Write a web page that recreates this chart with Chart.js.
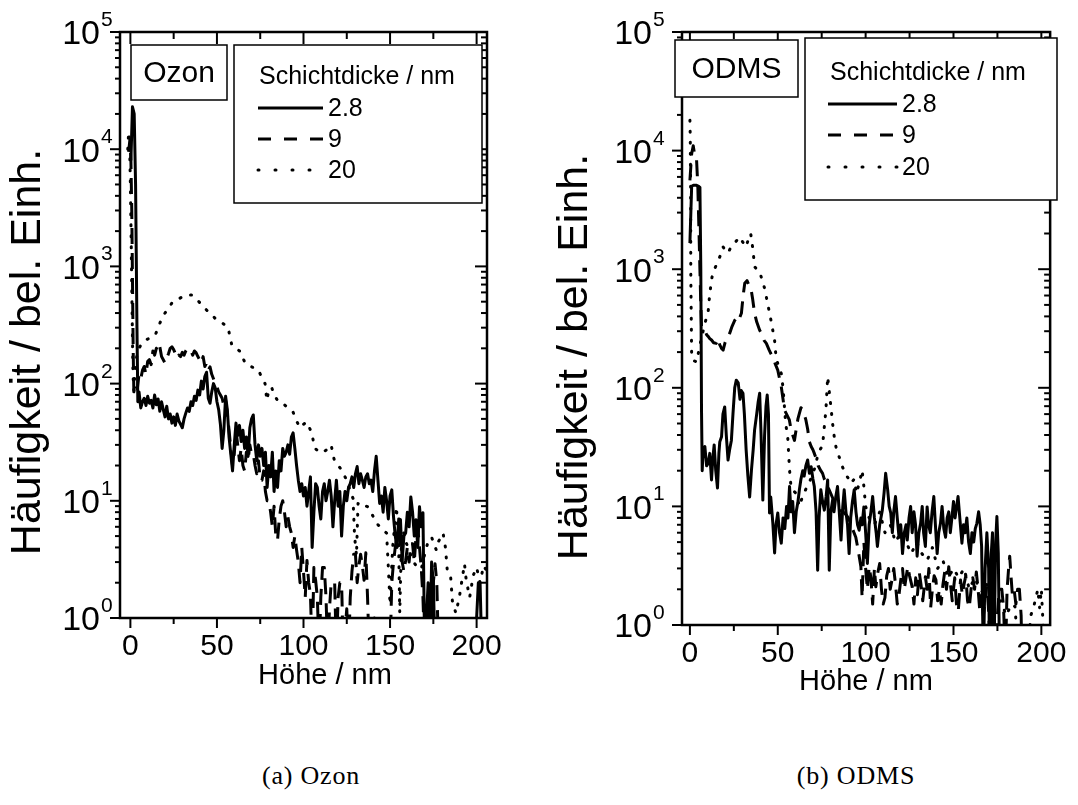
<!DOCTYPE html>
<html>
<head>
<meta charset="utf-8">
<script src="https://cdn.jsdelivr.net/npm/chart.js@4.4.0/dist/chart.umd.min.js"></script>
<style>
  body { margin: 0; background: #fff; width: 1078px; height: 805px; position: relative; overflow: hidden; }
  canvas { position: absolute; top: 0; }
  #ozon { left: 0; }
  #odms { left: 540px; }
  .cap { position: absolute; top: 761px; width: 300px; text-align: center; font: 26px "Liberation Serif", "DejaVu Serif", serif; letter-spacing: 0.8px; color: #000; }
</style>
</head>
<body>
<canvas id="ozon" width="540" height="720"></canvas>
<canvas id="odms" width="538" height="720"></canvas>
<div class="cap" style="left:161px">(a) Ozon</div>
<div class="cap" style="left:706px">(b) ODMS</div>
<script>
// thickness labels (legend)
const thickness = ['2.8', '9', '20']
const xTickValues = [0, 50, 100, 150, 200]
const yDecades = [0, 1, 2, 3, 4, 5]

// Ozon panel, [height nm, frequency], 0.5 = empty bin (below axis)
const ozon28 = [
  [0.3, 8000], [1.2, 23000], [2.2, 20000], [3, 5000], [3.8, 300], [4.3, 70],
  [5, 85], [6, 62], [7, 70], [8, 75], [9, 65], [10, 78], [11, 68], [12, 72], [13, 62], [14, 80],
  [15, 66], [16, 74], [17, 58], [18, 70], [19, 60], [20, 52], [21, 64], [22, 50], [23, 55], [24, 46],
  [25, 52], [26, 44], [27, 55], [28, 48], [29, 45], [30, 42], [31, 50], [32, 56], [33, 62], [34, 58],
  [35, 70], [36, 65], [37, 78], [38, 72], [39, 88], [40, 80], [41, 105], [42, 90], [43, 115], [44, 125],
  [45, 75], [46, 68], [47, 85], [48, 100], [49, 92], [50, 70], [51, 60], [52, 45], [53, 28], [54, 40],
  [55, 78], [56, 60], [57, 35], [58, 25], [59, 18], [60, 30], [61, 46], [62, 36], [63, 44], [64, 32],
  [65, 40], [66, 28], [67, 35], [68, 24], [69, 42], [70, 50], [71, 54], [72, 30], [73, 22], [74, 30],
  [75, 24], [76, 28], [77, 20], [78, 26], [79, 13], [80, 20], [81, 16], [82, 26], [83, 12], [84, 18],
  [85, 13], [86, 22], [87, 18], [88, 28], [89, 24], [90, 26], [91, 30], [92, 25], [93, 35], [94, 38],
  [95, 28], [96, 20], [97, 15], [98, 12], [99, 14], [100, 11], [101, 13], [102, 9], [103, 12], [104, 16],
  [105, 4], [106, 8], [107, 14], [108, 13], [109, 9], [110, 7], [111, 12], [112, 14], [113, 10], [114, 12],
  [115, 15], [116, 11], [117, 6], [118, 10], [119, 15], [120, 9], [121, 12], [122, 5], [123, 9], [124, 12],
  [125, 10], [126, 13], [127, 14], [128, 16], [129, 13], [130, 17], [131, 19.6], [132, 14], [133, 17], [134, 15],
  [135, 13], [136, 16], [137, 17], [138, 14], [139, 15], [140, 12], [141, 18], [142, 24], [143, 15], [144, 9.5],
  [145, 11], [146, 8], [147, 13], [148, 10], [149, 7], [150, 11], [151, 12.4], [152, 7.3], [153, 5], [154, 4],
  [155, 7], [156, 6.9], [157, 3.1], [158, 5], [159, 5.3], [160, 8], [161, 6], [162, 10.8], [163, 8], [164, 5],
  [165, 6.9], [166, 4], [167, 8.9], [168, 6], [169, 7.9], [170, 0.5], [171, 1], [172, 2], [173, 0.5], [174, 3],
  [175, 2], [176, 0.5], [199, 0.5], [200, 1], [201, 2], [202, 2], [203, 0.5], [206, 0.5]
]
const ozon9 = [
  [-1, 9500], [-0.3, 12000], [0.3, 8000], [0.8, 3000], [1.2, 800], [1.6, 200], [2, 85], [3, 100], [4, 90],
  [5, 120], [6, 110], [7, 130], [8, 140], [9, 120], [10, 155], [11, 160], [12, 145], [13, 190], [14, 175],
  [15, 200], [16, 185], [17, 206], [18, 170], [19, 160], [20, 150], [21, 165], [22, 180], [23, 200], [24, 206],
  [25, 195], [26, 180], [27, 165], [28, 175], [29, 170], [30, 185], [31, 175], [32, 190], [33, 200], [34, 195],
  [35, 190], [36, 175], [37, 190], [38, 183], [39, 170], [40, 160], [41, 150], [42, 170], [43, 140], [44, 150],
  [45, 130], [46, 139], [47, 120], [48, 110], [49, 100], [50, 94], [51, 85], [52, 80], [53, 75], [54, 65],
  [55, 72], [56, 55], [57, 40], [58, 28], [59, 20], [60, 25], [61, 40], [62, 30], [63, 22], [64, 28],
  [65, 20], [66, 18], [67, 26], [68, 22], [69, 30], [70, 25], [71, 25], [72, 20], [73, 17], [74, 22],
  [75, 15], [76, 15], [77, 18], [78, 12], [79, 10], [80, 10], [81, 8], [82, 6], [83, 9], [84, 5],
  [85, 4.6], [86, 7], [87, 9], [88, 10], [89, 8], [90, 6], [91, 7.3], [92, 6], [93, 5.3], [94, 4],
  [95, 5], [96, 3.8], [97, 3], [98, 2], [99, 4], [100, 2.5], [101, 1.5], [102, 3.1], [103, 2], [104, 1.6],
  [105, 0.5], [106, 2.7], [107, 2.1], [108, 1.5], [109, 0.5], [110, 1.5], [111, 2.7], [112, 2.7], [113, 1.5], [114, 0.5],
  [115, 1.2], [116, 2], [117, 2], [118, 2], [119, 0.5], [120, 1.5], [121, 2], [122, 2], [123, 0.5], [125, 1.2],
  [126, 0.5], [127, 1.5], [128, 2.5], [129, 3.5], [130, 3.5], [131, 2], [132, 2.8], [133, 3.5], [134, 2.8], [135, 2.1],
  [136, 3.6], [137, 1.5], [138, 0.5], [140, 0.5], [141, 1], [142, 0.5], [150, 0.5], [151, 2], [152, 3], [153, 4],
  [154, 5], [155, 5.6], [156, 4], [157, 3], [158, 2.5], [159, 3.1], [160, 4], [161, 3], [162, 4.3], [163, 4.3],
  [164, 3], [165, 5], [166, 6], [167, 4], [168, 2.7], [169, 1.5], [170, 0.5], [174, 0.5], [175, 2], [176, 2.9],
  [177, 2], [178, 0.5], [206, 0.5]
]
const ozon20 = [
  [-1.5, 10000], [-1, 14000], [-0.5, 12000], [0, 5000], [0.5, 1500], [1, 400], [1.5, 120], [2, 88], [3, 150],
  [4, 180], [5, 200], [6, 213], [8, 230], [10, 240], [11.5, 245], [13, 255], [14.4, 260], [16, 300], [18.3, 365],
  [20, 400], [22, 440], [24, 488], [26, 510], [28, 530], [30, 550], [32, 560], [34, 570], [35.5, 570], [37, 550],
  [39, 510], [41.3, 470], [43, 440], [45, 410], [47, 385], [49, 360], [50.7, 350], [53, 330], [56.5, 300], [57.5, 250],
  [58.6, 213], [61, 200], [63.4, 188], [65, 165], [66.3, 150], [68, 145], [70, 139], [72, 135], [74, 130], [76, 112],
  [77.8, 100], [78.8, 72], [80, 88], [81.6, 93], [83, 80], [85.5, 70], [87, 68], [89, 66], [91, 62], [94, 57],
  [96, 48], [98, 42], [100, 45], [102, 47], [104.7, 38], [106.6, 28], [108, 27], [110.5, 25.6], [113, 27], [116, 30],
  [117, 25], [118, 21.6], [120, 20], [122, 18.4], [124, 16], [125.8, 14], [127, 12], [128.6, 10.5], [129.5, 5], [130.6, 3.4],
  [131.5, 9.5], [133, 9], [135, 9.2], [137, 8.9], [139, 8], [142, 6.5], [145, 5.8], [148, 5.3], [149, 2.7], [150, 1.3],
  [151.5, 4], [153.7, 8.9], [155, 4], [155.6, 1.1], [156.5, 4], [157.5, 5.6], [159, 4.5], [161, 3.8], [163, 3.1], [165, 2.8],
  [168, 2.6], [170, 3.5], [172, 4.5], [174, 4.9], [176.7, 3.8], [178, 4.5], [180.6, 5.3], [182, 4], [183, 2.6], [185, 2.25],
  [186, 1.4], [188, 1.1], [190, 1.5], [193, 2.9], [194, 2.1], [196, 1.5], [198, 2.3], [200, 2.7], [202, 2], [204, 2.8],
  [206, 2.5]
]

// ODMS panel
const odms28 = [
  [0, 1660], [1, 5000], [2, 5100], [3, 5100], [3.8, 5100], [5, 5000], [5.7, 4900], [6.2, 1000], [6.6, 65], [7, 20],
  [7.5, 30], [8.5, 32], [9.5, 22], [10.4, 23], [11.3, 28], [12.3, 16.7], [13, 25], [13.8, 33], [14.7, 20], [15.7, 14.3],
  [16.5, 28], [17, 35], [18, 38.6], [18.8, 60], [19.8, 69], [20.7, 40], [21.7, 24.6], [22.6, 30], [23.6, 36], [24.5, 60],
  [25.5, 100], [26.4, 116], [27.5, 110], [28.5, 80], [29.2, 95], [30.2, 90], [31, 60], [32, 30], [33, 18], [34, 12],
  [35, 20], [36, 30], [36.8, 44], [38, 60], [38.8, 75], [39.7, 90], [40.5, 40], [41.5, 11.3], [42.5, 40], [43.3, 70],
  [44, 87], [44.7, 60], [45.3, 8.8], [46, 12], [47.2, 7.2], [48.2, 4.05], [49, 7], [50, 8.8], [51, 6], [52, 4.9],
  [53, 8], [54, 6.5], [55, 10], [55.8, 8], [56.7, 14.7], [57.5, 9], [58.5, 11], [59.5, 6], [60.5, 9], [61.5, 11],
  [62.3, 13.8], [63.2, 17], [64.2, 20], [65, 18], [66, 22], [67, 24.6], [68, 19], [69, 21.6], [70, 17], [70.8, 14.7],
  [71.8, 9], [72.7, 2.9], [73.5, 8], [74.5, 13.8], [75.5, 11], [76.5, 9.3], [77.5, 12], [78.4, 16.7], [79.3, 2.9], [80.2, 9],
  [81.2, 11.3], [82, 9], [83, 12], [84, 14.7], [85, 9], [86, 5.2], [87, 10], [87.8, 13.8], [88.8, 9], [89.7, 7],
  [90.6, 4], [91.5, 8], [92.5, 11], [93.5, 13.8], [94.5, 9], [95.4, 7], [96.3, 6.3], [97.3, 8], [98, 7], [99, 9.9],
  [100, 6], [101, 3.3], [102, 7], [103, 9], [104, 12.1], [105, 8], [106, 6], [106.7, 4.6], [108, 7], [109.5, 9.3],
  [110.5, 13], [111.4, 19], [112.5, 14], [113.4, 10], [114.3, 8.8], [115.2, 6], [116, 9], [117, 12.1], [118, 8], [119, 5.5],
  [120, 7], [121, 4], [122, 6], [123, 7], [123.7, 5.2], [124.7, 8], [125.6, 10], [126.5, 6], [127.5, 9], [128.4, 7],
  [129.3, 3.8], [130.3, 6], [131.3, 7.2], [132.2, 10], [133, 6], [134, 4.6], [135, 9.9], [135.8, 7], [136.8, 6], [137.8, 9],
  [138.8, 12.1], [139.7, 7], [140.7, 4], [141.6, 6], [142.6, 7.2], [143.5, 10], [144.5, 6.5], [145.5, 5.5], [146.4, 8], [147.3, 9],
  [148.2, 6], [149.1, 8], [150, 11], [150.9, 8], [151.8, 10], [152.6, 12.1], [153.6, 8], [154.8, 4.9], [155.7, 7], [156.6, 6],
  [157.6, 8], [158.6, 5], [159.6, 4], [160.5, 6], [161.5, 5], [162.4, 6.5], [163.3, 7.2], [164.3, 9], [165.2, 7], [166, 4.6],
  [167, 0.5], [168, 3], [169, 6], [170, 3], [170.5, 0.5], [171.5, 4], [172.2, 6], [173, 0.5], [174, 5], [174.7, 8.2],
  [175.5, 4], [176.2, 0.5], [206, 0.5]
]
const odms9 = [
  [0, 5600], [1, 9400], [1.9, 11000], [2.8, 9000], [3.8, 8300], [4.5, 5000], [5.2, 2000], [5.7, 990], [6.2, 500], [6.6, 327],
  [7.5, 310], [8.5, 306], [9.5, 280], [10.5, 270], [11.3, 260], [12.3, 253], [13.5, 240], [15, 237], [16, 260], [17, 230],
  [18, 215], [18.9, 208], [20, 240], [21, 260], [22.7, 290], [24, 330], [25.5, 370], [27, 400], [28, 380], [29.3, 425],
  [30.3, 600], [31.2, 760], [32.5, 800], [33.5, 740], [34.6, 710], [35.7, 560], [36.8, 425], [38, 360], [39.7, 306], [41, 280],
  [42.3, 250], [43.5, 237], [45, 210], [46, 195], [47.2, 183], [48.5, 160], [50, 141], [51, 120], [52, 102], [53, 80],
  [53.8, 65], [55, 60], [56.6, 53.6], [57.5, 45], [58.5, 40], [59.5, 36], [60.5, 45], [61.5, 55], [62.3, 61], [63.2, 68],
  [64.2, 65], [65, 60], [66, 53.6], [67, 45], [68, 35], [69, 32], [70, 30], [70.8, 28], [72, 25], [73, 22],
  [74.5, 20], [75.5, 19], [76.5, 17], [77.5, 16], [78.4, 14.7], [80, 13], [81, 12], [82, 11], [83.5, 10], [85, 9.5],
  [86.5, 9], [88, 8.8], [89.7, 8.2], [91, 7.5], [92.5, 6.5], [94.4, 5.5], [95.5, 4.5], [97.3, 3.1], [98, 1.7], [99, 5],
  [100, 3], [101, 2], [102, 3.1], [103, 2.5], [104, 1.5], [105, 3], [105.8, 2.1], [107, 2.8], [108, 3.3], [109, 2],
  [110, 1.5], [111, 1.7], [112, 2.6], [113, 3], [114, 2], [115, 2.4], [116, 3], [117, 2.2], [118, 1.5], [119, 1.8],
  [120, 2.4], [121, 3], [122, 2], [123, 2.5], [124, 3.1], [125, 2.6], [126.5, 2.1], [127.5, 1.5], [128.5, 2.5], [129.5, 1.8],
  [130.5, 2.8], [131.5, 2.2], [132.5, 1.6], [134, 2.55], [135, 2], [136, 3], [137, 1.4], [138, 2], [139, 2.6], [140, 2.4],
  [141, 1.6], [142, 2], [143, 1.5], [144, 2.2], [145, 2.8], [146, 2], [147.3, 3.1], [148.3, 2.2], [149.3, 1.6], [150.7, 2.5],
  [151.7, 1.5], [152.7, 1.3], [154, 2.4], [155, 1.8], [156, 2.2], [157, 2.6], [158, 1.6], [159, 1.4], [160, 2], [161, 2.5],
  [162, 2], [163, 2.8], [164, 2], [165, 1.3], [166, 1.8], [167, 1.2], [168, 1.6], [169, 2.2], [170, 1.3], [171, 0.5],
  [172, 1.5], [173, 1.3], [174, 0.5], [175, 1.2], [176, 2], [177.5, 2], [178.5, 1.4], [179.5, 0.5], [180.5, 2], [181.5, 3.2],
  [182, 3.8], [182.8, 2.5], [183.5, 1.8], [184.5, 2], [185.5, 1.5], [186.5, 2], [187.5, 2], [188.5, 1.2], [189, 0.5], [206, 0.5]
]
const odms20 = [
  [0, 18000], [0.2, 13000], [0.4, 5000], [0.5, 930], [0.7, 482], [0.8, 350], [0.9, 245], [1, 178], [2, 170], [3.8, 165],
  [5.7, 230], [7.5, 300], [9, 370], [10.4, 440], [11.3, 625], [12.6, 860], [13.7, 980], [15, 1080], [16, 1180], [17, 1270],
  [18, 1400], [18.9, 1540], [20, 1450], [21.7, 1370], [23, 1500], [24.5, 1600], [26, 1700], [28.3, 1870], [30, 1700], [32, 1540],
  [33.3, 1800], [34.6, 2000], [35.9, 1450], [36.8, 1050], [38, 1000], [39.7, 950], [41, 820], [42.5, 690], [44.4, 500], [46.3, 360],
  [48.2, 250], [49, 182], [50.5, 150], [52, 132], [53, 100], [53.8, 69], [54.5, 50], [55.7, 37.5], [56.7, 20.3], [57.6, 14.2],
  [59, 13.5], [60.4, 12.9], [62.3, 10], [64, 12], [66, 14], [68, 16], [70, 19], [71.5, 22], [72.7, 27], [74, 30],
  [75.5, 32.6], [76.5, 47], [77.4, 65], [78, 95], [78.4, 124], [79.2, 96], [80.2, 70], [81.2, 50], [82.5, 35], [83.5, 30],
  [85, 26], [86.8, 21.6], [88.8, 18.4], [90.5, 17], [91.6, 15.6], [93.5, 17], [94.8, 12.9], [96.5, 16], [98, 20.2], [99, 14.7],
  [100, 10], [102, 8], [105, 7], [108, 9], [111, 6], [114, 7], [117, 5], [120, 6], [123, 5], [126, 4],
  [129, 5], [132, 4], [135, 3.5], [138, 4.5], [141, 3], [144, 3.5], [147, 2.5], [150, 3], [153, 2.5], [156, 3],
  [159, 2], [162, 2.5], [165, 2], [168, 1.8], [171, 2], [174, 1.5], [177, 1.6], [180, 1.2], [183, 1.5], [185, 1.43],
  [187, 0.5], [192, 0.5], [194, 1.2], [196, 1.5], [198, 2], [199, 1.4], [200, 2], [202, 0.5], [206, 0.5]
]

const FONT = '"Liberation Sans", Arial, sans-serif'
const lineDash = [[], [16, 9], [1, 10]]
const legendDash = [[], [13, 13], [1, 16]]

const toXY = arr => arr.map(([x, y]) => ({ x, y }))

const framePlugin = {
  id: 'frame',
  afterDatasetsDraw(chart, args, o) {
    const { ctx, chartArea: a } = chart
    const x = chart.scales.x
    const y = chart.scales.y
    const seg = (x0, y0, x1, y1) => { ctx.beginPath(); ctx.moveTo(x0, y0); ctx.lineTo(x1, y1); ctx.stroke() }
    ctx.save()
    ctx.strokeStyle = '#000'
    ctx.fillStyle = '#000'
    ctx.lineCap = 'butt'
    ctx.lineWidth = 2

    // x ticks: outward at bottom, inward at top
    for (let v = 0; v <= 200; v += 25) {
      const px = x.getPixelForValue(v)
      const major = v % 50 === 0
      seg(px, a.bottom, px, a.bottom + (major ? 10 : 6))
      seg(px, a.top, px, a.top + (major ? 12 : 7))
    }
    // log ticks: outward left, inward right
    for (let p = 0; p <= 5; p++) {
      for (let m = 1; m <= 9; m++) {
        if (p === 5 && m > 1) break
        const py = y.getPixelForValue(m * Math.pow(10, p))
        const major = m === 1
        seg(a.left - (major ? 10 : 5), py, a.left, py)
        seg(a.right - (major ? 12 : 6), py, a.right, py)
      }
    }
    ctx.lineWidth = 2.5
    ctx.strokeRect(a.left, a.top, a.right - a.left, a.bottom - a.top)

    // name box
    const nb = o.nameBox
    ctx.lineWidth = 1.5
    ctx.fillStyle = '#fff'
    ctx.fillRect(nb.x0, nb.y0, nb.x1 - nb.x0, nb.y1 - nb.y0)
    ctx.strokeRect(nb.x0, nb.y0, nb.x1 - nb.x0, nb.y1 - nb.y0)
    ctx.fillStyle = '#000'
    ctx.font = `30px ${FONT}`
    ctx.textAlign = 'center'
    ctx.textBaseline = 'middle'
    ctx.fillText(nb.text, (nb.x0 + nb.x1) / 2, (nb.y0 + nb.y1) / 2 + 1)

    // legend
    const lg = o.legendBox
    ctx.fillStyle = '#fff'
    ctx.fillRect(lg.x0, lg.y0, lg.x1 - lg.x0, lg.y1 - lg.y0)
    ctx.strokeRect(lg.x0, lg.y0, lg.x1 - lg.x0, lg.y1 - lg.y0)
    ctx.fillStyle = '#000'
    ctx.font = `25px ${FONT}`
    ctx.textAlign = 'left'
    ctx.fillText('Schichtdicke / nm', lg.titleX, lg.titleY)
    chart.data.datasets.forEach((ds, i) => {
      const ry = lg.rows[i]
      ctx.lineWidth = 3
      ctx.lineCap = i === 2 ? 'round' : 'butt'
      ctx.setLineDash(legendDash[i])
      seg(lg.s0, ry, lg.s1, ry)
      ctx.setLineDash([])
      ctx.fillText(ds.label, lg.textX, ry + 1)
    })
    ctx.restore()
  },
  afterDraw(chart, args, o) {
    const { ctx, chartArea: a } = chart
    const y = chart.scales.y
    ctx.save()
    ctx.fillStyle = '#000'
    yDecades.forEach(p => {
      const py = y.getPixelForValue(Math.pow(10, p))
      const xr = a.left - o.labelGap
      ctx.font = `34px ${FONT}`
      ctx.textAlign = 'right'
      ctx.textBaseline = 'middle'
      ctx.fillText('10', xr - 13, py + 3)
      ctx.font = `21px ${FONT}`
      ctx.textAlign = 'left'
      ctx.textBaseline = 'alphabetic'
      ctx.fillText(String(p), xr - 12, py - 6)
    })

    // axis titles
    ctx.textAlign = 'center'
    ctx.textBaseline = 'middle'
    ctx.font = `29px ${FONT}`
    ctx.fillText(o.xTitle.text, o.xTitle.cx, o.xTitle.cy)
    ctx.translate(o.yTitle.cx, o.yTitle.cy)
    ctx.rotate(-Math.PI / 2)
    ctx.font = `43px ${FONT}`
    ctx.fillText(o.yTitle.text, 0, 0)
    ctx.restore()
  }
}

function makePanel(id, series, cfg) {
  new Chart(document.getElementById(id), {
    type: 'line',
    data: {
      datasets: series.map((s, i) => ({
        label: thickness[i],
        data: toXY(s),
        borderColor: '#000',
        borderWidth: 3,
        borderDash: lineDash[i],
        borderCapStyle: i === 2 ? 'round' : 'butt',
        borderJoinStyle: 'round',
        pointRadius: 0,
        fill: false,
        tension: 0
      }))
    },
    options: {
      responsive: false,
      animation: false,
      layout: { padding: cfg.padding },
      plugins: {
        legend: { display: false },
        tooltip: { enabled: false },
        frame: cfg.frame
      },
      scales: {
        x: {
          type: 'linear',
          min: cfg.xMin,
          max: cfg.xMax,
          afterFit: s => { s.height = cfg.xHeight },
          grid: { display: false, drawTicks: false },
          border: { display: false },
          afterBuildTicks: s => { s.ticks = xTickValues.map(v => ({ value: v })) },
          ticks: {
            autoSkip: false, maxRotation: 0, color: '#000', padding: 11,
            font: { family: FONT, size: 30 }
          },
          title: { display: false, text: 'Höhe / nm' }
        },
        y: {
          type: 'logarithmic',
          min: 1,
          max: 100000,
          afterFit: s => { s.width = cfg.yWidth },
          grid: { display: false, drawTicks: false },
          border: { display: false },
          ticks: { display: false },
          title: { display: false, text: 'Häufigkeit / bel. Einh.' }
        }
      }
    },
    plugins: [framePlugin]
  })
}

makePanel('ozon', [ozon28, ozon9, ozon20], {
  xMin: -6, xMax: 206,
  padding: { left: 0, top: 32, right: 53, bottom: 22 },
  xHeight: 80, yWidth: 120,
  frame: {
    labelGap: 7,
    xTitle: { text: 'Höhe / nm', cx: 325, cy: 676 },
    yTitle: { text: 'Häufigkeit / bel. Einh.', cx: 28, cy: 352 },
    nameBox: { x0: 131, y0: 45, x1: 227, y1: 100, text: 'Ozon' },
    legendBox: { x0: 234, y0: 45, x1: 482, y1: 203, titleX: 259, titleY: 77, rows: [108, 139, 170], s0: 258, s1: 323, textX: 328 }
  }
})

makePanel('odms', [odms28, odms9, odms20], {
  xMin: -4.5, xMax: 205,
  padding: { left: 0, top: 32, right: 26, bottom: 17 },
  xHeight: 78, yWidth: 142,
  frame: {
    labelGap: 17,
    xTitle: { text: 'Höhe / nm', cx: 326, cy: 682 },
    yTitle: { text: 'Häufigkeit / bel. Einh.', cx: 35, cy: 357 },
    nameBox: { x0: 135, y0: 40, x1: 258, y1: 97, text: 'ODMS' },
    legendBox: { x0: 265, y0: 38, x1: 517, y1: 200, titleX: 290, titleY: 73, rows: [104, 135, 167], s0: 288, s1: 357, textX: 362 }
  }
})
</script>
</body>
</html>
